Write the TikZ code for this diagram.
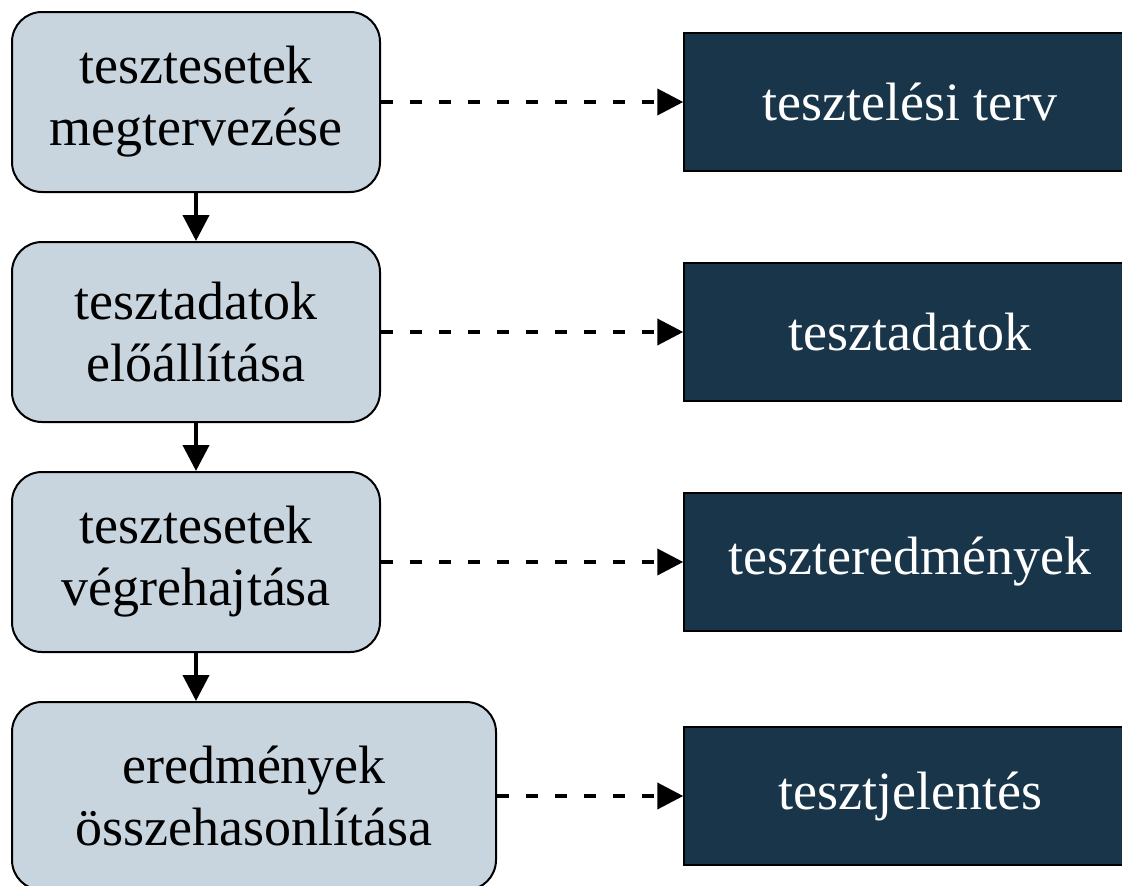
\documentclass[tikz,border=0pt]{standalone}
\usepackage{fontspec}
\setmainfont{Liberation Serif}
\usetikzlibrary{arrows.meta}
\definecolor{lightbox}{RGB}{200,213,222}
\definecolor{darkbox}{RGB}{25,53,74}
\tikzset{
  stepbox/.style={draw=black, line width=2pt, fill=lightbox, rounded corners=30pt,
    align=center, inner sep=0pt, text=black, font=\fontsize{54}{62}\selectfont},
  outbox/.style={draw=black, line width=1.5pt, fill=darkbox, minimum width=452pt,
    minimum height=138pt, inner sep=0pt, text=white, font=\fontsize{54}{62}\selectfont},
  flowarrow/.style={line width=4pt, -{Triangle[length=26pt,width=26pt]}},
  outarrow/.style={line width=4pt, dash pattern=on 12pt off 17pt, -{Triangle[length=26pt,width=26pt]}}
}
\begin{document}
\begin{tikzpicture}[x=1pt,y=-1pt]
\useasboundingbox (0,0) rectangle (1122,886);
\clip (0,0) rectangle (1122,886);
\node[stepbox, minimum width=368pt, minimum height=180pt] (s1) at (196,102) {tesztesetek\\megtervezése};
\node[stepbox, minimum width=368pt, minimum height=180pt] (s2) at (196,332) {tesztadatok\\előállítása};
\node[stepbox, minimum width=368pt, minimum height=180pt] (s3) at (196,562) {tesztesetek\\végrehajtása};
\node[stepbox, minimum width=484pt, minimum height=188pt] (s4) at (254,796) {eredmények\\összehasonlítása};
\node[outbox] (o1) at (910,102) {tesztelési terv};
\node[outbox] (o2) at (910,332) {tesztadatok};
\node[outbox] (o3) at (910,562) {teszteredmények};
\node[outbox] (o4) at (910,796) {tesztjelentés};
\draw[flowarrow] (s1.south) -- (s2.north);
\draw[flowarrow] (s2.south) -- (s3.north);
\draw[flowarrow] (s3.south -| s3.center) -- (s4.north -| s3.center);
\draw[outarrow] (s1.east) -- (o1.west);
\draw[outarrow] (s2.east) -- (o2.west);
\draw[outarrow] (s3.east) -- (o3.west);
\draw[outarrow] (s4.east) -- (o4.west);
\end{tikzpicture}
\end{document}
